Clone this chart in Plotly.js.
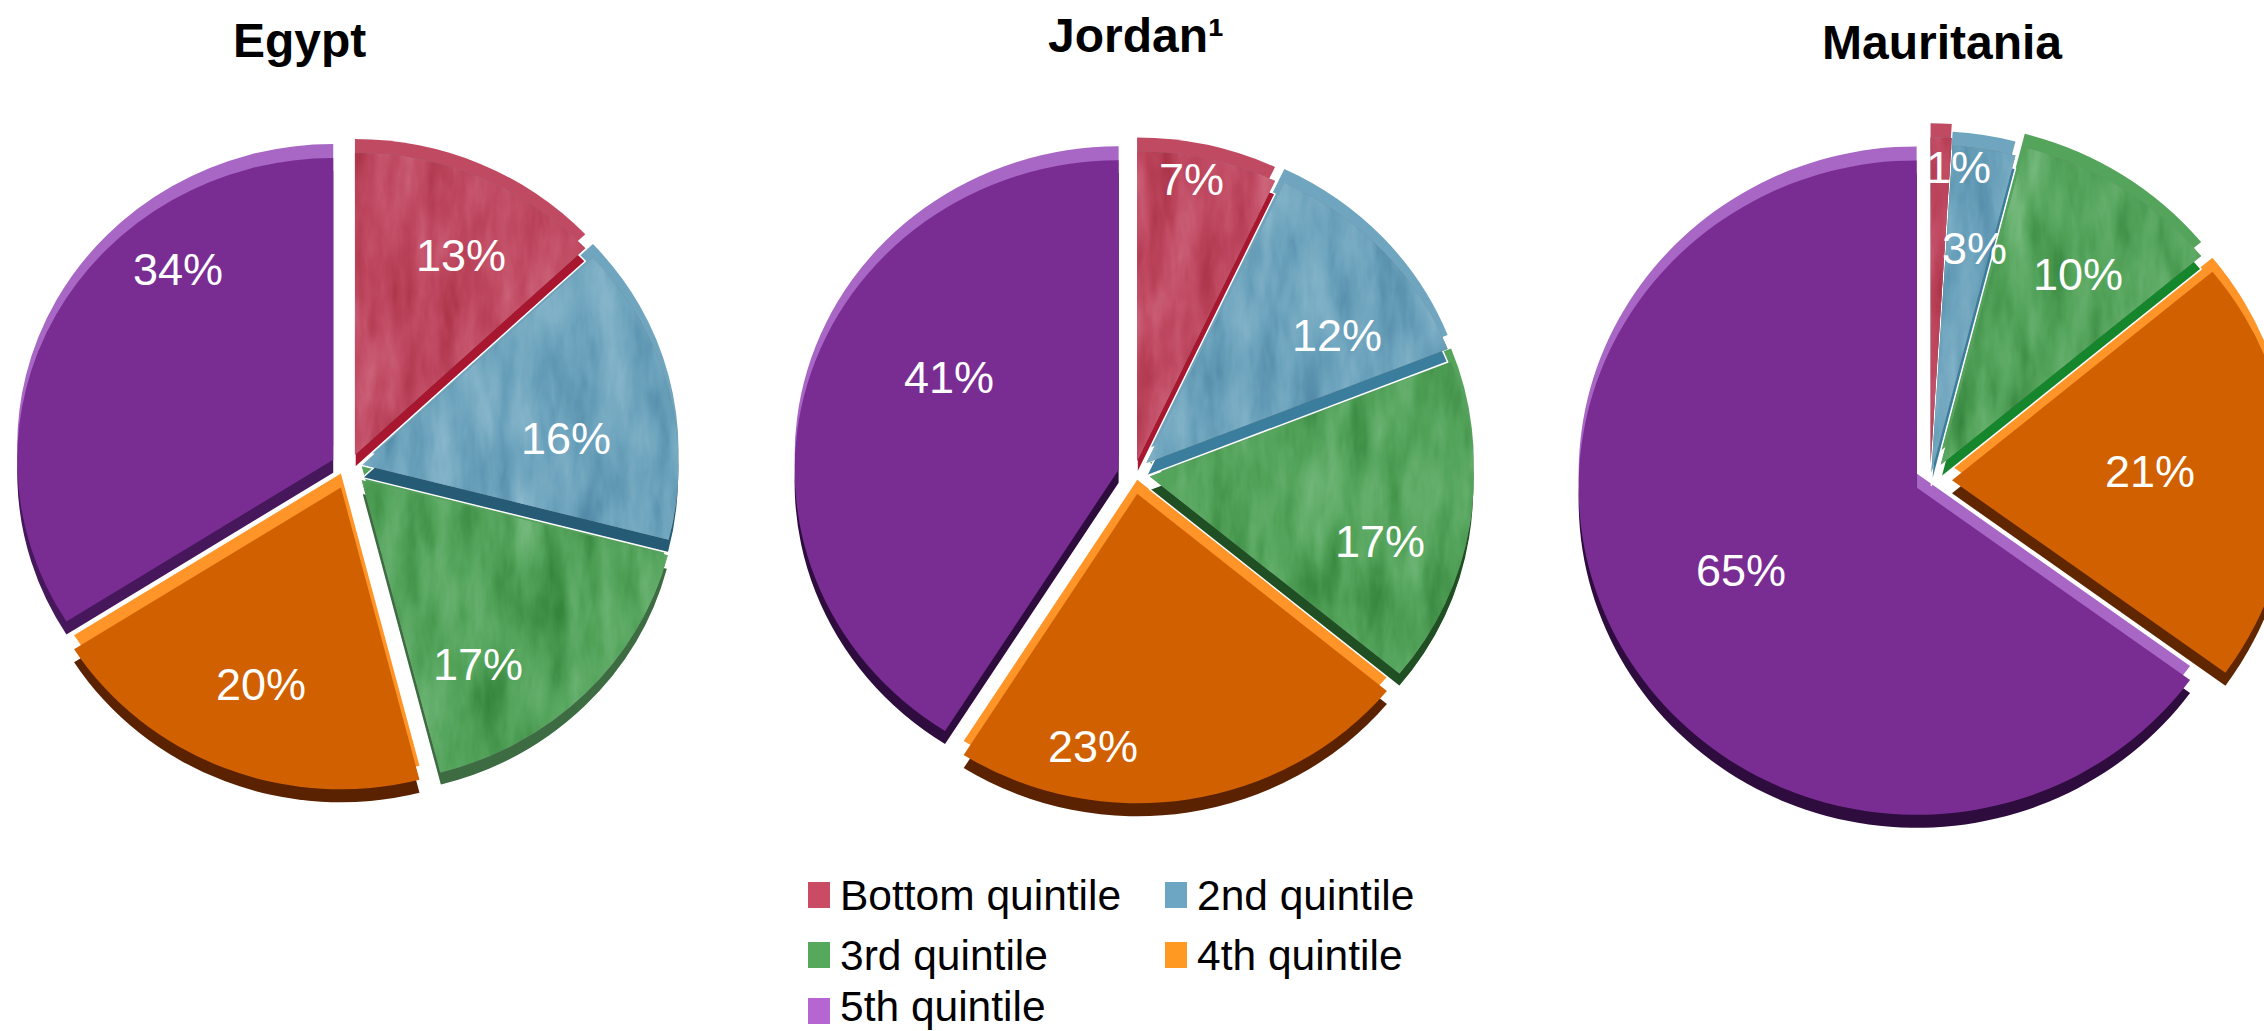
<!DOCTYPE html>
<html>
<head>
<meta charset="utf-8">
<script src="https://cdn.plot.ly/plotly-3.0.1.min.js"></script>
<style>
  html, body { margin: 0; padding: 0; background: #fff; overflow: hidden; width: 2264px; height: 1031px; }
  #chart { width: 2400px; height: 1031px; }
</style>
</head>
<body>
<svg width="0" height="0" style="position:absolute">
  <defs>
    <!-- brushed paint look for the three textured wedge colours -->
    <filter id="brushed" x="0" y="0" width="1" height="1" color-interpolation-filters="sRGB">
      <feTurbulence type="fractalNoise" baseFrequency="0.035 0.009" numOctaves="4" seed="7" result="n"/>
      <feColorMatrix in="n" type="matrix" values="0.4 0.4 0.4 0 -0.1  0.4 0.4 0.4 0 -0.1  0.4 0.4 0.4 0 -0.1  0 0 0 0 1" result="g"/>
      <feComposite in="g" in2="SourceGraphic" operator="in" result="gc"/>
      <feBlend in="gc" in2="SourceGraphic" mode="soft-light"/>
    </filter>
  </defs>
</svg>
<div id="chart"></div>
<script>
// Share of each income quintile, in percent
const categories = ['Bottom quintile', '2nd quintile', '3rd quintile', '4th quintile', '5th quintile'];
const egyptShares = [13, 16, 17, 20, 34];
const jordanShares = [7, 12, 17, 23, 41];
const mauritaniaShares = [1, 3, 10, 21, 65];
const countryTitles = ['Egypt', 'Jordan¹', 'Mauritania'];

// Wedge colours: face, raised edge, lower edge per country
const faceColors = ['#C04A62', '#6FA5BE', '#54A45C', '#D16000', '#792D93'];
const edgeColors = ['#C04A62', '#6FA5BE', '#54A45C', '#FF9428', '#A866C5'];
const shadeEgypt = ['#A8172F', '#255B75', '#3D6B42', '#5A2200', '#47175C'];
const shadeJordan = ['#A8172F', '#3A7D9C', '#1F4F22', '#5A2200', '#2E0C3E'];
const shadeMauritania = ['#A8172F', '#3A7D9C', '#16862C', '#5F2600', '#2E0C3E'];
const legendColors = ['#C94B64', '#6DA6C2', '#55A85C', '#FF9922', '#B566D0'];
const seamWidths = [1.5, 1.5, 1.5, 0, 0];

const W = 2400, H = 1031;
const RAISE = 14, DROP = 13; // pixel thickness of the upper and lower rims

// Pie placement in pixels: centre, radius, vertical squash, and wedge offsets
const pies = [
  { shares: egyptShares, shade: shadeEgypt, cx: 349, cy: 468, r: 316, squash: 0.955, offsets: [15, 14, 18, 22, 18],
    labelPos: [[461, 256], [566, 439], [478, 664], [261, 684], [178, 270]], titlePos: [299, 40] },
  { shares: jordanShares, shade: shadeJordan, cx: 1134, cy: 474, r: 324, squash: 0.955, offsets: [14, 17, 16, 21, 16],
    labelPos: [[1191, 179], [1337, 335], [1380, 541], [1093, 746], [949, 377]], titlePos: [1136, 36] },
  { shares: mauritaniaShares, shade: shadeMauritania, cx: 1930, cy: 481, r: 338, squash: 0.968, offsets: [17, 9, 20, 22, 15],
    labelPos: [[1958, 167], [1974, 248], [2078, 274], [2150, 471], [1741, 570]], titlePos: [1942, 42] }
];

const px = x => x / W;
const py = y => 1 - y / H;

function pieTrace(pie, colors, dy, lineWidths) {
  const pull = pie.offsets.map(d => d / pie.r);
  const half = pie.r * (1 + Math.max(...pull));
  const cy = pie.cy + dy;
  return {
    type: 'pie', values: pie.shares, labels: categories, sort: false,
    direction: 'clockwise', rotation: 0, pull: pull,
    textinfo: 'none', hoverinfo: 'skip', showlegend: false,
    marker: { colors: colors, line: { color: '#ffffff', width: lineWidths } },
    domain: { x: [px(pie.cx - half), px(pie.cx + half)], y: [py(cy + half), py(cy - half)] }
  };
}

// Each pie is three stacked layers: raised edge, lower edge, face
const traces = [];
const squashes = [];
pies.forEach(pie => {
  traces.push(pieTrace(pie, edgeColors, -RAISE, 0));
  squashes.push({ k: pie.squash, cy: pie.cy - RAISE });
  traces.push(pieTrace(pie, pie.shade, DROP, seamWidths));
  squashes.push({ k: pie.squash, cy: pie.cy + DROP });
  traces.push(pieTrace(pie, faceColors, 0, 0));
  squashes.push({ k: pie.squash, cy: pie.cy });
});

const annotations = [];
pies.forEach((pie, p) => {
  annotations.push({
    text: '<b>' + countryTitles[p] + '</b>', xref: 'paper', yref: 'paper',
    x: px(pie.titlePos[0]), y: py(pie.titlePos[1]), xanchor: 'center', yanchor: 'middle',
    showarrow: false, font: { family: 'Liberation Sans, Arial, sans-serif', size: 48, color: '#000' }
  });
  pie.shares.forEach((v, i) => {
    annotations.push({
      text: v + '%', xref: 'paper', yref: 'paper',
      x: px(pie.labelPos[i][0]), y: py(pie.labelPos[i][1]), xanchor: 'center', yanchor: 'middle',
      showarrow: false, font: { family: 'Liberation Sans, Arial, sans-serif', size: 45, color: '#fff' }
    });
  });
});

// Two-column key below the Jordan pie
const keyCols = [808, 1165], keyRows = [895, 955, 1006];
const swatchRows = [895, 955, 1011];
const shapes = [];
categories.forEach((c, i) => {
  const x = keyCols[i % 2], row = Math.floor(i / 2);
  shapes.push({
    type: 'rect', xref: 'paper', yref: 'paper',
    x0: px(x), x1: px(x + 22), y0: py(swatchRows[row] - 13), y1: py(swatchRows[row] + 13),
    fillcolor: legendColors[i], line: { width: 0 }
  });
  annotations.push({
    text: c, xref: 'paper', yref: 'paper',
    x: px(x + 29.5), y: py(keyRows[row]), xanchor: 'left', yanchor: 'middle',
    showarrow: false, font: { family: 'Liberation Sans, Arial, sans-serif', size: 42.5, color: '#000' }
  });
});

const layout = {
  width: W, height: H, margin: { l: 0, r: 0, t: 0, b: 0 },
  paper_bgcolor: '#fff', showlegend: false,
  annotations: annotations, shapes: shapes
};

Plotly.newPlot('chart', traces, layout, { displayModeBar: false, staticPlot: true }).then(() => {
  // The pies are drawn tilted: flatten each one about its own centre
  document.querySelectorAll('.pielayer > .trace').forEach((g, i) => {
    const s = squashes[i];
    g.setAttribute('transform', `translate(0,${s.cy}) scale(1,${s.k}) translate(0,${-s.cy})`);
    if (i % 3 === 2) {
      g.querySelectorAll('.slice path.surface').forEach((path, j) => {
        if (j < 3) path.style.filter = 'url(#brushed)';
      });
    }
  });
});
</script>
</body>
</html>
